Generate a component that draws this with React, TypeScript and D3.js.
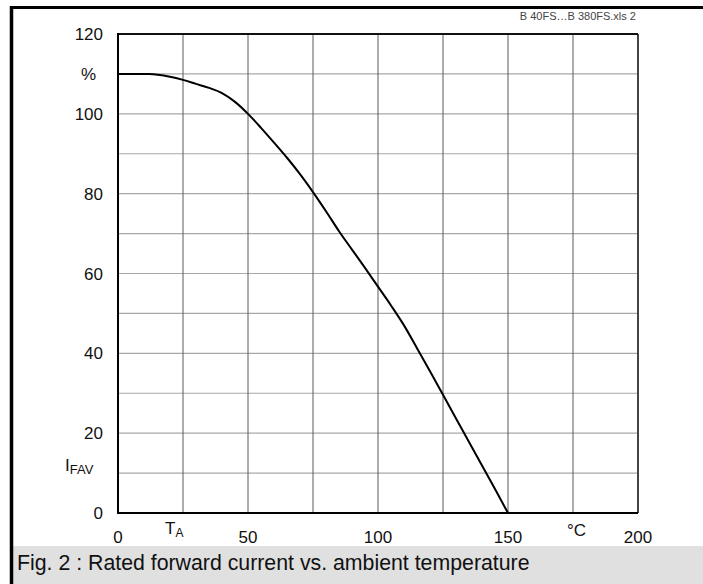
import React from "react";
import * as d3 from "d3";

const temps = [0, 12, 20, 25, 30, 35, 40, 45, 50, 55, 60, 65, 70, 75, 80, 85, 90, 95, 100, 105, 110, 115, 120, 125, 130, 135, 140, 145, 150];
const currents = [110, 110, 109.3, 108.5, 107.5, 106.5, 105.2, 103, 100, 96.5, 92.8, 89, 84.9, 80.4, 75.6, 70.6, 66, 61.4, 56.7, 52, 47, 41.3, 35.5, 29.6, 23.7, 17.8, 11.9, 6, 0];
const xTickLabels = [0, 50, 100, 150, 200];
const yTickLabels = [0, 20, 40, 60, 80, 100, 120];
const xGrid = d3.range(0, 201, 25);
const yGrid = d3.range(0, 121, 10);

const W = 703;
const H = 584;
const FONT = "Arial, 'Liberation Sans', Helvetica, sans-serif";

export default function App() {
  const x = d3.scaleLinear().domain([0, 200]).range([118, 638]);
  const y = d3.scaleLinear().domain([0, 120]).range([513, 34]);
  const line = d3
    .line<number>()
    .x((_, i) => x(temps[i]))
    .y((d) => y(d))
    .curve(d3.curveMonotoneX);

  return (
    <svg
      width={W}
      height={H}
      style={{ position: "absolute", left: 0, top: 0, background: "#fff" }}
      fontFamily={FONT}
    >
      <rect x={0} y={0} width={W} height={H} fill="#fff" />
      {/* caption band */}
      <rect x={12} y={546} width={W - 12} height={H - 546} fill="#e0e0e0" />
      <text x={17} y={570} fontSize={21.3} fill="#111">
        Fig. 2 : Rated forward current vs. ambient temperature
      </text>
      {/* outer frame */}
      <line x1={11.5} x2={11.5} y1={6} y2={H} stroke="#000" strokeWidth={3.5} />
      <line x1={10} x2={W} y1={7.5} y2={7.5} stroke="#000" strokeWidth={3} />
      <text x={636} y={20} fontSize={11} fill="#444" textAnchor="end">
        B 40FS…B 380FS.xls 2
      </text>
      {/* grid */}
      {yGrid.map((v) => (
        <line key={"h" + v} x1={x(0)} x2={x(200)} y1={y(v)} y2={y(v)} stroke="#a8a8a8" strokeWidth={1.2} />
      ))}
      {xGrid.map((v) => (
        <line key={"v" + v} x1={x(v)} x2={x(v)} y1={y(0)} y2={y(120)} stroke="#5a5a5a" strokeWidth={1} />
      ))}
      {/* plot frame */}
      <line x1={x(200)} x2={x(200)} y1={y(0)} y2={y(120)} stroke="#444" strokeWidth={2} />
      <line x1={x(0)} x2={x(200)} y1={y(120)} y2={y(120)} stroke="#111" strokeWidth={2} />
      <line x1={x(0)} x2={x(200)} y1={y(0)} y2={y(0)} stroke="#000" strokeWidth={2} />
      <line x1={x(0)} x2={x(0)} y1={y(0) + 1} y2={y(120) - 1} stroke="#000" strokeWidth={2} />
      {/* curve */}
      <path d={line(currents) || ""} fill="none" stroke="#000" strokeWidth={2} />
      {/* y tick labels */}
      {yTickLabels.map((v) => (
        <text key={"yl" + v} x={103} y={y(v)} dy="0.36em" fontSize={17} textAnchor="end" fill="#111">
          {v}
        </text>
      ))}
      <text x={96} y={y(110)} dy="0.36em" fontSize={17} textAnchor="end" fill="#111">
        %
      </text>
      <text x={65} y={471} fontSize={17} fill="#111">
        I<tspan fontSize={13} dy={3}>FAV</tspan>
      </text>
      {/* x tick labels */}
      {xTickLabels.map((v) => (
        <text key={"xl" + v} x={x(v)} y={543} fontSize={17} textAnchor="middle" fill="#111">
          {v}
        </text>
      ))}
      <text x={165} y={534} fontSize={17} fill="#111">
        T<tspan fontSize={12} dy={3}>A</tspan>
      </text>
      <text x={567} y={536} fontSize={17} fill="#111">
        °C
      </text>
    </svg>
  );
}
